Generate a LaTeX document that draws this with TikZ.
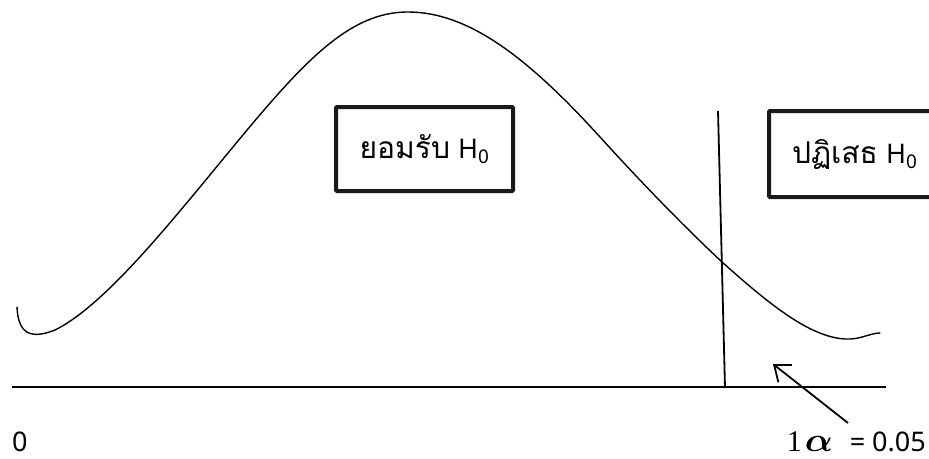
\documentclass[tikz,border=0pt]{standalone}
\usepackage{fontspec}
\usepackage{bm}
\newfontfamily\thaifont[Script=Thai]{Loma}
\newfontfamily\latinfont{Noto Sans}
\newfontfamily\seriffont{Liberation Serif}
\usetikzlibrary{arrows.meta}
\newcommand{\thaitxt}[1]{{\thaifont\fontsize{30}{34}\selectfont #1}}
\newcommand{\hzero}{{\latinfont\fontsize{27}{30}\selectfont H\textsubscript{0}}}
\begin{document}
\begin{tikzpicture}[x=1pt,y=-1pt,
  box/.style={draw=black!90, line width=4pt, fill=white, rounded corners=1pt,
    inner ysep=0pt},
  lbl/.style={font=\latinfont\fontsize{27}{30}\selectfont, inner sep=0pt, text depth=0pt},
  curve/.style={line width=1.4pt, line cap=round},
  rule/.style={line width=1.8pt},
  axis/.style={line width=2.4pt},
]
\useasboundingbox (0,0) rectangle (929,458);

% normal curve
\draw[curve] (17,307) .. controls (18,333) and (30,340) .. (55,330)
  .. controls (100,308) and (160,235) .. (200,187)
  .. controls (290,78) and (340,12) .. (408,12)
  .. controls (470,12) and (530,60) .. (600,137)
  .. controls (650,192) and (690,232) .. (722,262)
  .. controls (770,305) and (810,337) .. (845,339)
  .. controls (860,340) and (870,333) .. (880,333);

% boxes
\node[box, inner xsep=0pt, minimum width=177pt, minimum height=84pt] (accept) at (424.5,149)
  {\thaitxt{ยอมรับ}\hspace{8pt}\hzero};
\node[box, anchor=north west, inner xsep=23pt, text width=160pt, align=left,
  minimum height=86pt] (reject) at (767,109) {\thaitxt{ปฏิเสธ}\hspace{8pt}\hzero};

% critical value line
\coordinate (vt) at (718,111);
\coordinate (vb) at (725,388);
\draw[rule] (vt) -- (vb);

% axis
\coordinate (al) at (12,387);
\coordinate (ar) at (886,387);
\draw[axis] (al) -- (ar);

% labels
\node[lbl, anchor=base west] (zero) at (12,451) {0};
\node[lbl, anchor=base east] (alpha) at (926,451)
  {{\seriffont\fontsize{30}{32}\selectfont 1}\hspace{3pt}\resizebox{28pt}{15pt}{$\bm{\alpha}$}\hspace{17pt}= 0.05};

% arrow to the rejection area
\coordinate (tail) at (848,423);
\coordinate (head) at (773,364);
\draw[rule, -{Straight Barb[length=14pt,width=22pt]}] (tail) -- (head);
\end{tikzpicture}
\end{document}
